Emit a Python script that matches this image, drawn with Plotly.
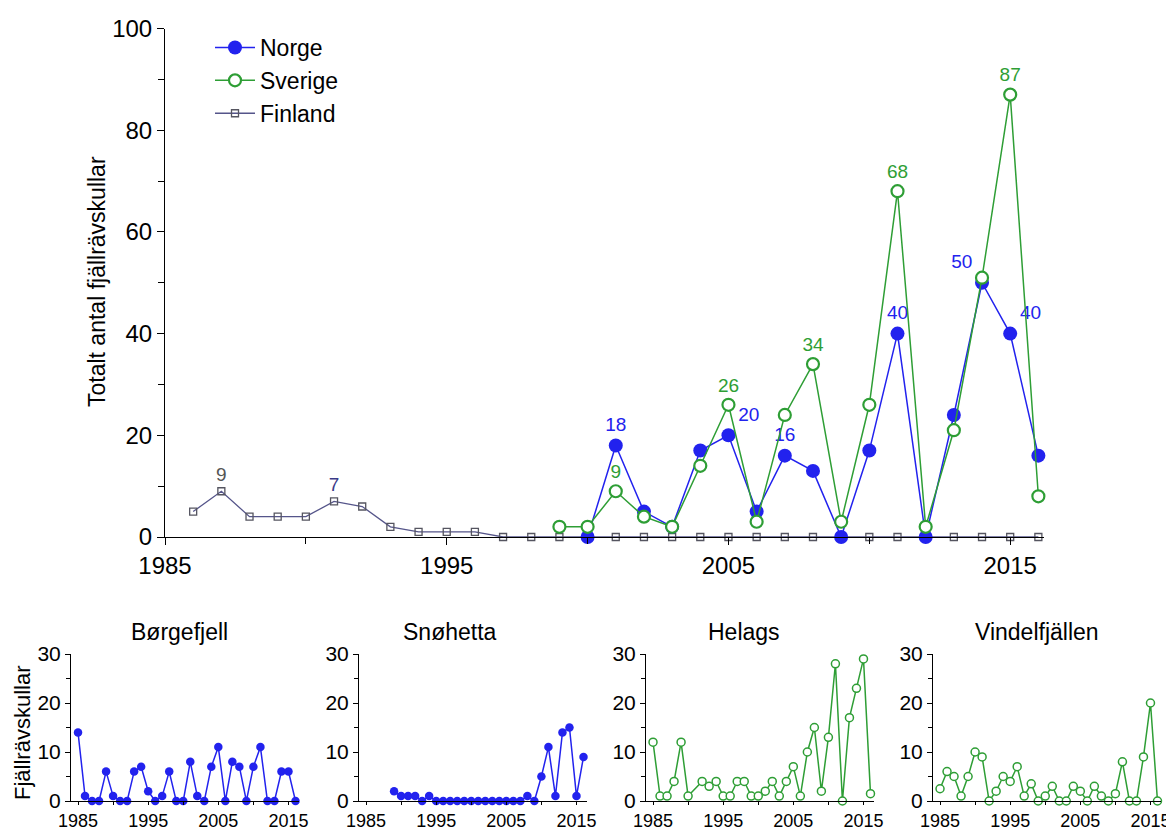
import plotly.graph_objects as go

# ---------------- data ----------------
years_fi = [1986, 1987, 1988, 1989, 1990, 1991, 1992, 1993, 1994, 1995, 1996,
            1997, 1998, 1999, 2000, 2001, 2002, 2003, 2004, 2005, 2006, 2007,
            2008, 2009, 2010, 2011, 2012, 2013, 2014, 2015, 2016]
finland = [5, 9, 4, 4, 4, 7, 6, 2, 1, 1, 1,
           0, 0, 0, 0, 0, 0, 0, 0, 0, 0, 0,
           0, 0, 0, 0, 0, 0, 0, 0, 0]

years_no = [2000, 2001, 2002, 2003, 2004, 2005, 2006, 2007, 2008, 2009, 2010,
            2011, 2012, 2013, 2014, 2015, 2016]
norge = [0, 18, 5, 2, 17, 20, 5, 16, 13, 0, 17, 40, 0, 24, 50, 40, 16]

years_se = [1999, 2000, 2001, 2002, 2003, 2004, 2005, 2006, 2007, 2008, 2009,
            2010, 2011, 2012, 2013, 2014, 2015, 2016]
sverige = [2, 2, 9, 4, 2, 14, 26, 3, 24, 34, 3, 26, 68, 2, 21, 51, 87, 8]

labelled_fi = [1987, 1991]
labelled_no = [2001, 2005, 2007, 2011, 2014, 2015]
labelled_se = [2001, 2005, 2008, 2011, 2015]

years_b = [1985, 1986, 1987, 1988, 1989, 1990, 1991, 1992, 1993, 1994, 1995,
           1996, 1997, 1998, 1999, 2000, 2001, 2002, 2003, 2004, 2005, 2006,
           2007, 2008, 2009, 2010, 2011, 2012, 2013, 2014, 2015, 2016]
borgefjell = [14, 1, 0, 0, 6, 1, 0, 0, 6, 7, 2, 0, 1, 6, 0, 0, 8, 1, 0, 7, 11,
              0, 8, 7, 0, 7, 11, 0, 0, 6, 6, 0]

years_s = [1989, 1990, 1991, 1992, 1993, 1994, 1995, 1996, 1997, 1998, 1999,
           2000, 2001, 2002, 2003, 2004, 2005, 2006, 2007, 2008, 2009, 2010,
           2011, 2012, 2013, 2014, 2015, 2016]
snohetta = [2, 1, 1, 1, 0, 1, 0, 0, 0, 0, 0, 0, 0, 0, 0, 0, 0, 0, 0, 1, 0, 5,
            11, 1, 14, 15, 1, 9]

years_h = [1985, 1986, 1987, 1988, 1989, 1990, 1992, 1993, 1994, 1995, 1996,
           1997, 1998, 1999, 2000, 2001, 2002, 2003, 2004, 2005, 2006, 2007,
           2008, 2009, 2010, 2011, 2012, 2013, 2014, 2015, 2016]
helags = [12, 1, 1, 4, 12, 1, 4, 3, 4, 1, 1, 4, 4, 1, 1, 2, 4, 1, 4, 7, 1, 10,
          15, 2, 13, 28, 0, 17, 23, 29, 1.5]

years_v = [1985, 1986, 1987, 1988, 1989, 1990, 1991, 1992, 1993, 1994, 1995,
           1996, 1997, 1998, 1999, 2000, 2001, 2002, 2003, 2004, 2005, 2006,
           2007, 2008, 2009, 2010, 2011, 2012, 2013, 2014, 2015, 2016]
vindelfjallen = [2.5, 6, 5, 1, 5, 10, 9, 0, 2, 5, 4, 7, 1, 3.5, 0, 1, 3, 0, 0,
                 3, 2, 0, 3, 1, 0, 1.5, 8, 0, 0, 9, 20, 0]

main_xticks = [1985, 1995, 2005, 2015]
small_titles = ["Børgefjell", "Snøhetta", "Helags", "Vindelfjällen"]

# ---------------- styling ----------------
# the page body has an 8px margin, so the figure is drawn 8px in from the window corner
OFF = 8
W, H = 1174 - OFF, 832 - OFF
FONT = "Liberation Sans, Arial, sans-serif"
BLUE = "#2222ee"
GREEN = "#2e9e35"
FI_LINE = "#55558a"
FI_MARK = "#555560"


def px_x(p):
    return (p - OFF) / W


def px_y(p):
    return (H - (p - OFF)) / H


def labels(years, values, chosen):
    return [str(v) if y in chosen else "" for y, v in zip(years, values)]


fig = go.Figure()

# Finland
fig.add_trace(go.Scatter(
    x=years_fi, y=finland, name="Finland", mode="lines+markers+text",
    line=dict(color=FI_LINE, width=1.3),
    marker=dict(symbol="square-open", size=7, color=FI_MARK, line=dict(width=1.3)),
    text=labels(years_fi, finland, labelled_fi), textposition="top center",
    textfont=dict(size=19, color=["#555555" if y == 1987 else "#3a3a88" for y in years_fi], family=FONT),
    cliponaxis=False, legendrank=3, xaxis="x", yaxis="y"))

# Norge
pos_no = {2005: "top right", 2014: "top left", 2015: "top right"}
fig.add_trace(go.Scatter(
    x=years_no, y=norge, name="Norge", mode="lines+markers+text",
    line=dict(color=BLUE, width=1.5),
    marker=dict(symbol="circle", size=14, color=BLUE),
    text=labels(years_no, norge, labelled_no),
    textposition=[pos_no.get(y, "top center") for y in years_no],
    textfont=dict(size=19, color=BLUE, family=FONT),
    cliponaxis=False, legendrank=1, xaxis="x", yaxis="y"))

# Sverige
fig.add_trace(go.Scatter(
    x=years_se, y=sverige, name="Sverige", mode="lines+markers+text",
    line=dict(color=GREEN, width=1.5),
    marker=dict(symbol="circle", size=12, color="white", line=dict(color=GREEN, width=2.2)),
    text=labels(years_se, sverige, labelled_se), textposition="top center",
    textfont=dict(size=19, color=GREEN, family=FONT),
    cliponaxis=False, legendrank=2, xaxis="x", yaxis="y"))

# small multiples
small_series = [
    (years_b, borgefjell, BLUE, "circle"),
    (years_s, snohetta, BLUE, "circle"),
    (years_h, helags, GREEN, "circle-open"),
    (years_v, vindelfjallen, GREEN, "circle-open"),
]
small_domains = [(71, 299), (359, 587), (646, 874), (933, 1161)]
title_centers = [179, 450, 744, 1037]
SMALL_TOP, SMALL_BOTTOM = 654, 801

for i, (xs, ys, col, sym) in enumerate(small_series):
    k = i + 2
    if sym == "circle":
        mk = dict(symbol="circle", size=8.5, color=col)
    else:
        mk = dict(symbol="circle", size=8, color="white", line=dict(color=col, width=1.5))
    fig.add_trace(go.Scatter(
        x=xs, y=ys, mode="lines+markers", showlegend=False,
        line=dict(color=col, width=1.5), marker=mk, cliponaxis=False,
        xaxis=f"x{k}", yaxis=f"y{k}"))

axis_common = dict(showline=True, linecolor="black", linewidth=1, ticks="outside",
                   tickcolor="black", showgrid=False, zeroline=False,
                   automargin=False)

layout = dict(
    width=W, height=H, margin=dict(l=0, r=0, t=0, b=0),
    paper_bgcolor="white", plot_bgcolor="white",
    font=dict(family=FONT, color="black"),
    showlegend=True,
    legend=dict(x=px_x(210), y=px_y(26), xanchor="left", yanchor="top",
                font=dict(size=23, family=FONT), bgcolor="rgba(0,0,0,0)",
                itemwidth=40, tracegroupgap=0),
    xaxis=dict(axis_common, domain=[px_x(165), px_x(1044)], range=[1985, 2016.2],
               tickvals=main_xticks, ticklen=7, tickfont=dict(size=24),
               minor=dict(dtick=5, tick0=1985, ticklen=6, ticks="outside", tickcolor="black"),
               anchor="y"),
    yaxis=dict(axis_common, domain=[px_y(537), px_y(28.5)], range=[0, 100],
               dtick=20, ticklen=7, tickfont=dict(size=24),
               minor=dict(dtick=10, ticklen=6, ticks="outside", tickcolor="black"),
               anchor="x"),
)

for i, (x0, x1) in enumerate(small_domains):
    k = i + 2
    layout[f"xaxis{k}"] = dict(axis_common, domain=[px_x(x0), px_x(x1)], range=[1984, 2016.5],
                               tickvals=main_xticks, ticklen=3, tickfont=dict(size=18),
                               minor=dict(dtick=5, tick0=1985, ticklen=3, ticks="outside", tickcolor="black"),
                               anchor=f"y{k}")
    layout[f"yaxis{k}"] = dict(axis_common, domain=[px_y(SMALL_BOTTOM), px_y(SMALL_TOP)], range=[0, 30],
                               dtick=10, ticklen=5, tickfont=dict(size=21),
                               minor=dict(dtick=5, ticklen=4, ticks="outside", tickcolor="black"),
                               anchor=f"x{k}")

annotations = [
    dict(text="Totalt antal fjällrävskullar", x=px_x(97), y=px_y(282), xref="paper", yref="paper",
         textangle=-90, showarrow=False, font=dict(size=23, family=FONT), xanchor="center", yanchor="middle"),
    dict(text="Fjällrävskullar", x=px_x(22), y=px_y(733), xref="paper", yref="paper",
         textangle=-90, showarrow=False, font=dict(size=22, family=FONT), xanchor="center", yanchor="middle"),
]
for cx, t in zip(title_centers, small_titles):
    annotations.append(dict(text=t, x=px_x(cx), y=px_y(632), xref="paper", yref="paper",
                            showarrow=False, font=dict(size=23, family=FONT),
                            xanchor="center", yanchor="middle"))
layout["annotations"] = annotations

fig.update_layout(**layout)
fig.write_html("out.html")
